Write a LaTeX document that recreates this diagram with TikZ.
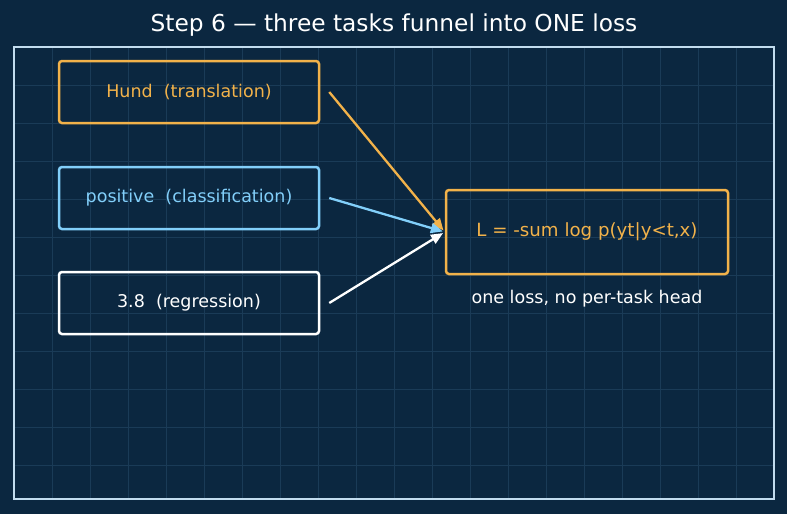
\documentclass[tikz,border=0pt]{standalone}
\usepackage{fontspec}
\setmainfont{DejaVu Sans}
\usetikzlibrary{arrows.meta}
\definecolor{bgblue}{HTML}{0B2740}
\definecolor{gridblue}{HTML}{1A3B57}
\definecolor{framec}{HTML}{C2DCEE}
\definecolor{lossorange}{HTML}{F2B24A}
\definecolor{skyblue}{HTML}{82CFFA}
\tikzset{
  taskbox/.style={draw, line width=2.5pt, rounded corners=3pt, minimum width=260pt,
    minimum height=62pt, font=\fontsize{17.5}{20}\selectfont},
  funnel/.style={line width=2.3pt, -{Triangle[length=12pt,width=10pt]}, shorten >=2pt},
}
\begin{document}
\begin{tikzpicture}[x=1pt,y=-1pt]
\fill[bgblue] (0,0) rectangle (787,514);
%\draw[help lines] (0,0) grid (787,514);
\foreach \x in {52,90,...,740}
\draw[gridblue, line width=0.7pt] (\x,47)--(\x,499);
\foreach \y in {85,123,...,470}
\draw[gridblue, line width=0.7pt] (14,\y)--(774,\y);
\draw[framec, line width=1.8pt] (14,47) rectangle (774,499);
\node[white, font=\fontsize{23.3}{26}\selectfont] (title) at (394,25) {Step 6 — three tasks funnel into ONE loss};
%
\node[taskbox, lossorange, text=lossorange] (hund) at (189,92) {Hund\ \ (translation)};
\node[taskbox, skyblue, text=skyblue] (pos) at (189,198) {positive\ \ (classification)};
\node[taskbox, white, text=white] (reg) at (189,303) {3.8\ \ (regression)};
\node[taskbox, lossorange, text=lossorange, minimum width=282pt, minimum height=84pt,
  font=\fontsize{18.2}{21}\selectfont] (loss) at (587,232) {L = -sum log p(yt|y<t,x)};
\node[white, font=\fontsize{17.5}{20}\selectfont] (note) at (587,299) {one loss, no per-task head};
%
\coordinate (h) at ([xshift=9pt]hund.east);
\coordinate (p) at ([xshift=9pt]pos.east);
\coordinate (r) at ([xshift=9pt]reg.east);
\draw[funnel, lossorange] (h) -- (loss.west);
\draw[funnel, skyblue] (p) -- (loss.west);
\draw[funnel, white] (r) -- (loss.west);
\end{tikzpicture}
\end{document}
